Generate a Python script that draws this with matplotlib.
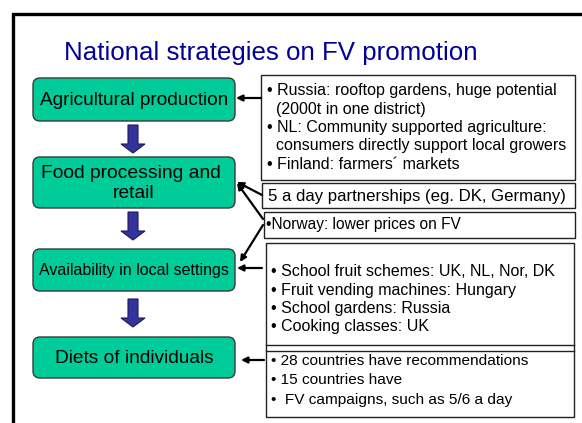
import matplotlib
matplotlib.use("Agg")
import matplotlib.pyplot as plt
from matplotlib.patches import FancyBboxPatch, Rectangle, FancyArrow

plt.rcParams['font.family'] = ['Liberation Sans', 'DejaVu Sans']

title = "National strategies on FV promotion"
stages = ["Agricultural production", "Food processing and \nretail",
          "Availability in local settings", "Diets of individuals"]
stage_sizes = [13.7, 13.9, 11.5, 13.8]

box_a = ["• Russia: rooftop gardens, huge potential",
         "  (2000t in one district)",
         "• NL: Community supported agriculture:",
         "  consumers directly support local growers",
         "• Finland: farmers\u00b4 markets"]
box_b = ["5 a day partnerships (eg. DK, Germany)"]
box_c = ["\u2022Norway: lower prices on FV"]
box_d = ["• School fruit schemes: UK, NL, Nor, DK",
         "• Fruit vending machines: Hungary",
         "• School gardens: Russia",
         "• Cooking classes: UK"]
box_e = ["• 28 countries have recommendations",
         "• 15 countries have",
         "•  FV campaigns, such as 5/6 a day"]

W, H = 582, 423
fig = plt.figure(figsize=(W / 100, H / 100), dpi=100)
ax = fig.add_axes([0, 0, 1, 1])
ax.set_xlim(0, W)
ax.set_ylim(H, 0)
ax.axis('off')

# frame
ax.plot([12.5, 12.5, W + 5], [H + 5, 14, 14], color='black', lw=2.4,
        solid_joinstyle='miter', clip_on=False)

ax.text(271, 53, title, ha='center', va='center', fontsize=18.6, color='#000099')

green = '#00CC99'
stage_y = [(78, 121), (157, 208), (249, 291), (337, 378)]
for (y0, y1), label, fs in zip(stage_y, stages, stage_sizes):
    p = FancyBboxPatch((33, y0), 202, y1 - y0, boxstyle='round,pad=0,rounding_size=7',
                       fc=green, ec='#3a3a3a', lw=1.0)
    ax.add_patch(p)
    ax.text(134, (y0 + y1) / 2 + 1, label, ha='center', va='center', fontsize=fs,
            color='black', linespacing=1.2)

# blue down arrows
for y0, y1 in [(125, 153), (212, 240), (299, 327)]:
    ax.add_patch(FancyArrow(133, y0, 0, y1 - y0, width=10, head_width=24, head_length=9,
                            length_includes_head=True, fc='#333399', ec='#1a1a66', lw=0.8))

# right boxes
def rbox(x0, y0, x1, y1):
    ax.add_patch(Rectangle((x0, y0), x1 - x0, y1 - y0, fc='white', ec='#222222', lw=1.0))

rbox(261, 75, 575, 180)
rbox(262, 183, 575, 208)
rbox(264, 212, 575, 238)
rbox(266, 243, 574, 417)
ax.plot([266, 574], [345.5, 345.5], color='#222222', lw=1.0)
ax.plot([266, 574], [351.5, 351.5], color='#222222', lw=1.0)

for i, t in enumerate(box_a):
    ax.text(267, 91 + i * 18.3, t, ha='left', va='center', fontsize=11.5)
ax.text(268, 196.5, box_b[0], ha='left', va='center', fontsize=12.1)
ax.text(266, 225, box_c[0], ha='left', va='center', fontsize=11.2)
for i, t in enumerate(box_d):
    ax.text(271, 272 + i * 18, t, ha='left', va='center', fontsize=11.5)
for i, t in enumerate(box_e):
    ax.text(271, 361 + i * 19.5, t, ha='left', va='center', fontsize=11.1)

# black connector arrows
def conn(x0, y0, x1, y1):
    ax.annotate('', xy=(x1, y1), xytext=(x0, y0),
                arrowprops=dict(arrowstyle='-|>', color='black', lw=1.6,
                                mutation_scale=9, shrinkA=0, shrinkB=0))

conn(261, 98, 236, 98)
conn(262, 195, 237, 182)
conn(263, 219, 237, 183)
conn(263, 225, 240, 262)
conn(262, 268, 237, 268)
conn(264, 360, 241, 360)

fig.savefig('out.png', dpi=100)
